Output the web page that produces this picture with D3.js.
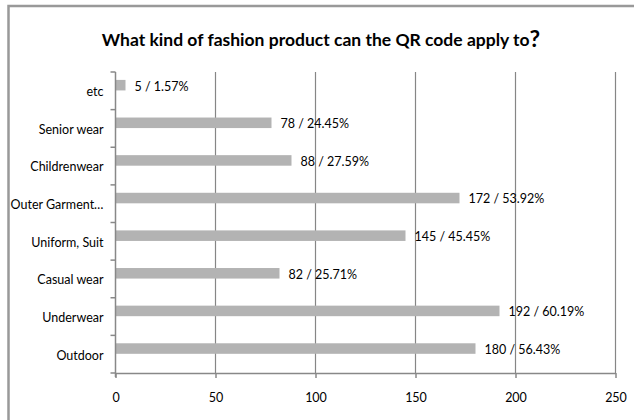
<!DOCTYPE html>
<html>
<head>
<meta charset="utf-8">
<script src="https://cdn.jsdelivr.net/npm/d3@7"></script>
<style>
  body { margin: 0; background: #fff; }
  text { font-family: Lato, "Liberation Sans", sans-serif; fill: #000; }
</style>
</head>
<body>
<div id="container"></div>
<script>
// Chart data, top to bottom as drawn
const categories = ["etc", "Senior wear", "Childrenwear", "Outer Garment\u2026", "Uniform, Suit", "Casual wear", "Underwear", "Outdoor"];
const counts = [5, 78, 88, 172, 145, 82, 192, 180];
const percents = ["1.57%", "24.45%", "27.59%", "53.92%", "45.45%", "25.71%", "60.19%", "56.43%"];
const xTicks = [0, 50, 100, 150, 200, 250];

const width = 634, height = 420;
const margin = { top: 72, left: 115.5, right: 18.5, bottom: 47 };

const svg = d3.select("#container")
    .append("svg")
    .attr("width", width)
    .attr("height", height);

// outer chart border (cropped on right and bottom)
svg.append("rect")
    .attr("x", 8.5).attr("y", 6)
    .attr("width", 700).attr("height", 500)
    .attr("fill", "none")
    .attr("stroke", "#999")
    .attr("stroke-width", 2.5);

// title
svg.append("text")
    .attr("x", 321)
    .attr("y", 46)
    .attr("text-anchor", "middle")
    .attr("font-size", 17.5)
    .attr("font-weight", "bold")
    .call(t => {
        t.append("tspan").text("What kind of fashion product can the QR code apply to");
        t.append("tspan").attr("font-size", 23).attr("dy", 1).text("?");
    });

const x = d3.scaleLinear()
    .domain([0, 250])
    .range([margin.left, width - margin.right]);

const y = d3.scaleBand()
    .domain(categories)
    .range([margin.top, height - margin.bottom]);

const bw = y.bandwidth();

// vertical gridlines
svg.append("g")
    .selectAll("line")
    .data(xTicks.slice(1))
    .enter()
    .append("line")
    .attr("x1", d => x(d)).attr("x2", d => x(d))
    .attr("y1", margin.top).attr("y2", height - margin.bottom)
    .attr("stroke", "#868686")
    .attr("stroke-width", 1.2);

// bars
svg.append("g")
    .selectAll("rect")
    .data(categories)
    .enter()
    .append("rect")
    .attr("x", x(0))
    .attr("y", d => y(d) + bw * 0.21)
    .attr("width", (d, i) => x(counts[i]) - x(0))
    .attr("height", bw * 0.28)
    .attr("fill", "#b3b3b3");

// value labels
svg.append("g")
    .attr("font-size", 12.5)
    .selectAll("text")
    .data(categories)
    .enter()
    .append("text")
    .attr("x", (d, i) => x(counts[i]) + 9)
    .attr("y", d => y(d) + bw * 0.35 + 1)
    .attr("dy", "0.35em")
    .text((d, i) => `${counts[i]} / ${percents[i]}`);

// x axis
const xAxis = svg.append("g")
    .attr("transform", `translate(0,${height - margin.bottom})`)
    .call(d3.axisBottom(x).tickValues(xTicks).tickSize(5).tickPadding(15).tickSizeOuter(0));
xAxis.select(".domain").attr("stroke", "#888").attr("stroke-width", 1.5);
xAxis.selectAll(".tick line").attr("stroke", "#888").attr("stroke-width", 1.5);
xAxis.selectAll("text").attr("font-size", 12.5).attr("font-family", null);

// y axis: ticks at band boundaries
const yAxis = svg.append("g")
    .attr("transform", `translate(${margin.left},0)`);
yAxis.append("line")
    .attr("y1", margin.top).attr("y2", height - margin.bottom + 4)
    .attr("stroke", "#888").attr("stroke-width", 1.5);
yAxis.selectAll(".ytick")
    .data(categories.concat([null]))
    .enter()
    .append("line")
    .attr("x1", -5).attr("x2", 0)
    .attr("y1", (d, i) => margin.top + i * bw)
    .attr("y2", (d, i) => margin.top + i * bw)
    .attr("stroke", "#888").attr("stroke-width", 1.5);

// category labels
yAxis.selectAll(".ylabel")
    .data(categories)
    .enter()
    .append("text")
    .attr("x", -12)
    .attr("y", d => y(d) + bw / 2 + 1)
    .attr("dy", "0.35em")
    .attr("text-anchor", "end")
    .attr("font-size", 12.5)
    .text(d => d);
</script>
</body>
</html>
